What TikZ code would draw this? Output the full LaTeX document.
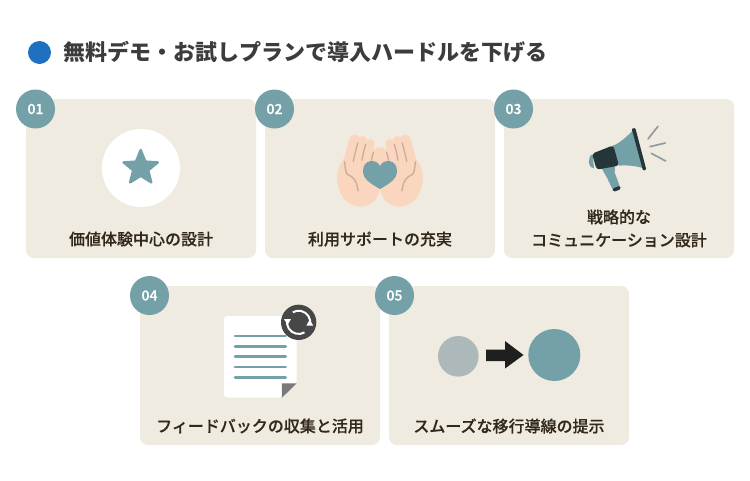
\documentclass[tikz,border=0pt]{standalone}
\usepackage{fontspec}
\newfontfamily\cjk{Noto Sans CJK JP}
\newfontfamily\cjkm[FakeBold=0.25]{Noto Sans CJK JP Medium}
\definecolor{teal1}{HTML}{74A0A8}
\definecolor{card}{HTML}{EFEBE1}
\definecolor{ink}{HTML}{33291B}
\definecolor{titleink}{HTML}{3C3C3C}
\definecolor{dot}{HTML}{1F70C1}
\definecolor{skin}{HTML}{FAD6BE}
\definecolor{crease}{HTML}{CDAE9B}
\definecolor{darkteal}{HTML}{263638}
\definecolor{mute}{HTML}{ACB8BA}
\tikzset{
 cardbox/.style={fill=card,rounded corners=8pt},
 badge/.style={circle,fill=teal1,minimum size=39pt,inner sep=0pt,text=white,font=\cjkm\fontsize{14}{14}\selectfont},
 cardlabel/.style={text=ink,font=\cjkm\fontsize{16}{23}\selectfont,align=center,inner sep=0pt},
 creaseline/.style={draw=crease,line width=1.4pt,line cap=round},
 doclines/.style={draw=teal1,line width=2.8pt,line cap=round},
 shout/.style={draw=mute!85!black,line width=1.7pt,line cap=round},
 swirl/.style={draw=white,line width=2pt}
}
\begin{document}
\begin{tikzpicture}[x=1pt,y=-1pt]
\useasboundingbox (0,0) rectangle (750,480);
\fill[white] (0,0) rectangle (750,480);
% title
\fill[dot] (39.5,52.5) circle (11.5);
\node[anchor=west,inner sep=0pt,text=titleink,font=\cjk\bfseries\fontsize{22}{24}\selectfont] (title) at (63,52.5) {無料デモ・お試しプランで導入ハードルを下げる};
% cards
\fill[cardbox] (26,99) rectangle (256,258);
\fill[cardbox] (265,99) rectangle (495,258);
\fill[cardbox] (504,99) rectangle (734,258);
\fill[cardbox] (140,286) rectangle (380,445);
\fill[cardbox] (389,286) rectangle (629,445);
% badges
\node[badge] (b1) at (35.5,109) {01};
\node[badge] (b2) at (274.5,109) {02};
\node[badge] (b3) at (513.5,109) {03};
\node[badge] (b4) at (149.5,295.5) {04};
\node[badge] (b5) at (394.5,295.5) {05};
% labels
\node[cardlabel] (l1) at (141,239) {価値体験中心の設計};
\node[cardlabel] (l2) at (380,239) {利用サポートの充実};
\node[cardlabel] (l3) at (619,228.5) {戦略的な\\コミュニケーション設計};
\node[cardlabel] (l4) at (260,426) {フィードバックの収集と活用};
\node[cardlabel] (l5) at (509,426) {スムーズな移行導線の提示};
% star icon
\fill[white] (141,168) circle (39);
\fill[teal1,draw=teal1,line width=2.4pt,line join=round]
 (140.7,150) -- (145.4,161.6) -- (157.8,162.4) -- (148.2,170.3) -- (151.3,182.4) -- (140.7,175.8) -- (130.1,182.4) -- (133.2,170.3) -- (123.6,162.4) -- (136,161.6) -- cycle;
% hands
\begin{scope}[shift={(320,115)},x=0.3333pt,y=-0.3333pt]
 \foreach \s in {0,1}{
 \begin{scope}[shift={(\s*360,0)},xscale={1-2*\s}]
  \fill[skin] (180,222) .. controls (172,258) and (148,275) .. (122,275)
    .. controls (80,275) and (50,235) .. (52,185)
    .. controls (52,160) and (63,145) .. (72,130) -- (88,72)
    .. controls (92,56) and (114,55) .. (118,68)
    .. controls (126,58) and (142,64) .. (142,78)
    .. controls (150,66) and (167,74) .. (164,90) -- (156,112)
    .. controls (158,102) and (180,92) .. (181,100) -- (181,225) -- cycle;
  \draw[creaseline] (113,84) .. controls (108,105) and (103,120) .. (100,140);
  \draw[creaseline] (137,88) .. controls (132,105) and (129,118) .. (126,136);
  \draw[creaseline] (160,112) -- (154,136);
  \draw[creaseline] (74,140) .. controls (75,160) and (78,172) .. (82,178) .. controls (100,184) and (112,200) .. (114,228);
 \end{scope}}
 \fill[teal1] (180,222) .. controls (150,205) and (129,192) .. (129,168)
   .. controls (129,132) and (170,130) .. (180,153)
   .. controls (190,130) and (231,132) .. (231,168)
   .. controls (231,192) and (210,205) .. (180,222) -- cycle;
\end{scope}
% megaphone
\begin{scope}[shift={(570,115)},x=0.3333pt,y=-0.3333pt]
 \fill[teal1] (68,118) .. controls (52,122) and (52,158) .. (72,160) -- cycle;
 \fill[teal1] (95,160) -- (135,154) -- (134,172) -- (150,216) -- (128,224) -- (112,190) -- cycle;
 \fill[darkteal,rounded corners=1.5pt] (127,221) -- (150,212) -- (153,222) -- (131,231) -- cycle;
 \fill[teal1] (128,92) .. controls (150,85) and (170,65) .. (190,45) -- (222,160) .. controls (195,152) and (170,150) .. (146,152) -- cycle;
 \fill[darkteal,rounded corners=3pt] (66,116) -- (130,91) -- (147,152) -- (80,164) -- cycle;
 \fill[darkteal,rounded corners=1pt] (185,41) -- (196,39) -- (229,164) -- (219,167) -- cycle;
 \draw[shout] (234,72) -- (264,34);
 \draw[shout] (240,95) -- (286,84);
 \draw[shout] (244,115) -- (287,138);
\end{scope}
% document
\begin{scope}[shift={(210,295)},x=0.3333pt,y=-0.3333pt]
 \fill[white,rounded corners=3pt] (42,63) -- (260,63) -- (260,265) -- (215,308) -- (42,308) -- cycle;
 \fill[gray!95!black] (260,265) -- (216,265) -- (216,308) -- cycle;
 \foreach \yy in {123,155,185,216,247}{\draw[doclines] (75,\yy) -- (227,\yy);}
 \fill[black!72] (266,82) circle (53);
 \draw[swirl] (232,74) arc[start angle=193,end angle=60,radius=35];
 \draw[swirl] (300,90) arc[start angle=13,end angle=-120,radius=35];
 \fill[white] (222,72) -- (243,72) -- (233,90) -- cycle;
 \fill[white] (289,92) -- (310,92) -- (299,74) -- cycle;
\end{scope}
% flow
\fill[mute] (458.3,356.3) circle (20.3);
\fill[teal1] (554.3,355) circle (26);
\fill[black!88] (486,349.5) -- (505,349.5) -- (505,341) -- (523.5,355) -- (505,368.5) -- (505,361) -- (486,361) -- cycle;
\end{tikzpicture}
\end{document}
